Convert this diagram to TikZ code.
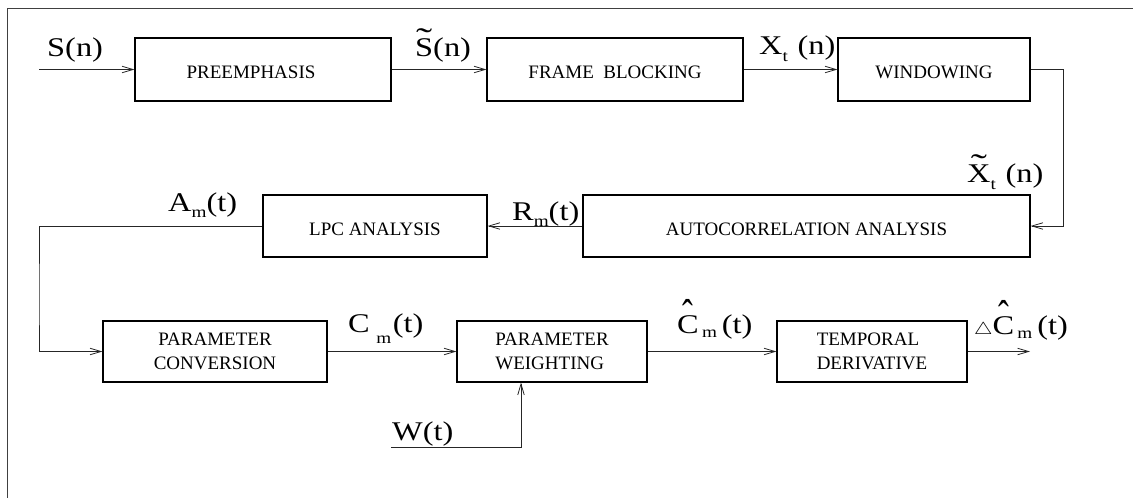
\documentclass[tikz,border=0pt]{standalone}
\usepackage{fontspec}
\setmainfont{Liberation Serif}
\usetikzlibrary{arrows.meta}

% accent glyph centred over a base letter
\newsavebox\accbox
\newcommand\accover[3]{%
  \sbox\accbox{#3}%
  \makebox[0pt][l]{\makebox[\wd\accbox][c]{\raisebox{#1}[0pt][0pt]{#2}}}\usebox\accbox}
\newcommand\lblfont{\fontsize{27}{30}\selectfont}
\newcommand\subfont{\fontsize{16}{18}\selectfont}
\newcommand\lowsub[2][-6pt]{\raisebox{#1}{\subfont #2}}
\newcommand\sigtext[1]{\scalebox{1.2}[1]{\lblfont #1}}
\newcommand\tld{\scalebox{1.5}[1.2]{\char"02DC}}
\newcommand\hatc{\scalebox{1.0}[1.6]{\char"02C6}}

\begin{document}
\begin{tikzpicture}[x=1pt,y=-1pt,
  blk/.style={draw=black, line width=1.1pt, inner sep=0pt, font=\fontsize{19}{24}\selectfont},
  lowtext/.style={text height=18pt, text depth=0pt},
  sig/.style={anchor=base west, inner sep=0pt},
  wire/.style={line width=0.9pt, draw=black!85,
    -{Straight Barb[length=11pt,width=6.5pt,line width=0.8pt]}},
  frameline/.style={line width=1.6pt, draw=black!75}]
\useasboundingbox (0,0) rectangle (1133,498);

% outer frame (left and top edges)
\draw[frameline] (7.5,499) -- (7.5,8.3) -- (1134,8.3);

% processing blocks
\node[blk,lowtext,minimum width=256pt,minimum height=63pt] (pre) at (263,69.5) {PREEMPHASIS\hspace*{24pt}};
\node[blk,lowtext,minimum width=256pt,minimum height=63pt] (frm) at (615,69.5) {FRAME\ \ BLOCKING};
\node[blk,lowtext,minimum width=192pt,minimum height=63pt] (win) at (934,69.5) {WINDOWING};
\node[blk,lowtext,minimum width=447pt,minimum height=62pt] (acr) at (806.5,226) {AUTOCORRELATION ANALYSIS};
\node[blk,lowtext,minimum width=224pt,minimum height=62pt] (lpc) at (375,226) {LPC ANALYSIS};
\node[blk,align=center,minimum width=224pt,minimum height=61pt] (pcv) at (215,351.5) {PARAMETER\\CONVERSION};
\node[blk,align=left,minimum width=190pt,minimum height=61pt] (pwt) at (552,351.5) {PARAMETER\\WEIGHTING};
\node[blk,align=left,minimum width=190pt,minimum height=61pt] (tdv) at (872,351.5) {TEMPORAL\\DERIVATIVE};

% signal flow
\coordinate (sin) at (39,69.5);
\coordinate (rbend) at (1063,150);
\coordinate (lbend) at (39,300);
\coordinate (sout) at (1030,351.5);
\coordinate (wstart) at (391,447);
\coordinate (wbend) at (521,447);

\draw[wire] (sin) -- (pre.west);
\draw[wire] (pre.east) -- (frm.west);
\draw[wire] (frm.east) -- (win.west);
\draw[wire] (win.east) -| (rbend) |- (acr.east);
\draw[wire] (acr.west) -- (lpc.east);
\draw[wire] (lpc.west) -| (lbend) |- (pcv.west);
\draw[wire] (pcv.east) -- (pwt.west);
\draw[wire] (pwt.east) -- (tdv.west);
\draw[wire] (tdv.east) -- (sout);
\draw[wire] (wstart) -- (wbend) -- (wbend |- pwt.south);

% signal names
\node[sig] (lS)   at (47,56)   {\sigtext{S(n)}};
\node[sig] (lSt)  at (415,56)  {\sigtext{\accover{0.22em}{\tld}{S}(n)}};
\node[sig] (lX)   at (759,54)  {\sigtext{X\lowsub[-7pt]{t}\hspace{0.3em}(n)}};
\node[sig] (lXt)  at (967,182) {\sigtext{\accover{0.2em}{\tld}{X}\lowsub[-7pt]{t}\hspace{0.3em}(n)}};
\node[sig] (lR)   at (512,220) {\sigtext{R\lowsub{m}(t)}};
\node[sig] (lA)   at (168,211) {\sigtext{A\lowsub{m}(t)}};
\node[sig] (lC)   at (348,332) {\sigtext{C\hspace{0.2em}\lowsub[-11pt]{m}\hspace{0.05em}(t)}};
\node[sig] (lW)   at (392,440) {\sigtext{W(t)}};
\node[sig] (lCh)  at (677,333) {\sigtext{\accover{0.12em}{\hatc}{C}\hspace{0.1em}\lowsub[-4pt]{m}\hspace{0.15em}(t)}};
\node[sig] (lDCh) at (974,334) {\sigtext{{\fontsize{18}{20}\selectfont$\triangle$}\accover{0.12em}{\hatc}{C}\hspace{0.1em}\lowsub[-4pt]{m}\hspace{0.15em}(t)}};
\end{tikzpicture}
\end{document}
